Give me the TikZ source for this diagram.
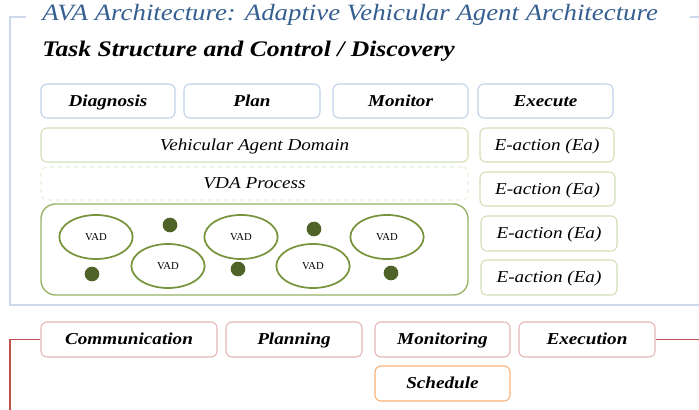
\documentclass[tikz,border=0pt]{standalone}
\usepackage{fontspec}
\setmainfont{Liberation Serif}
\newfontfamily\widefont[FakeStretch=1.15]{Liberation Serif}
\usetikzlibrary{fit,shapes.geometric}

\definecolor{titleblue}{RGB}{54,95,145}
\definecolor{framecol}{RGB}{205,218,236}
\definecolor{topcol}{RGB}{190,208,232}
\definecolor{greencol}{RGB}{208,222,178}
\definecolor{vdacol}{RGB}{232,238,218}
\definecolor{poolcol}{RGB}{150,178,100}
\definecolor{vadcol}{RGB}{119,147,60}
\definecolor{dotcol}{RGB}{79,98,40}
\definecolor{rosecol}{RGB}{228,180,180}
\definecolor{orangecol}{RGB}{247,175,115}
\definecolor{linkred}{RGB}{192,80,77}

\tikzset{
  frame/.style={draw=framecol, line width=1.1pt},
  basebox/.style={rounded corners=4.5pt, inner sep=0pt, line width=0.8pt},
  labelbox/.style={inner sep=0pt, text height=9pt, text depth=0.8pt},
  boldlabel/.style={label={[labelbox, font=\widefont\fontsize{12.5}{14}\selectfont\bfseries\itshape]center:#1}},
  plainlabel/.style={label={[labelbox, font=\widefont\fontsize{12.5}{14}\selectfont\itshape]center:#1}},
  topbox/.style={basebox, draw=topcol, boldlabel=#1},
  greenbox/.style={basebox, draw=greencol, plainlabel=#1},
  vdabox/.style={basebox, draw=vdacol, dashed, plainlabel=#1},
  poolbox/.style={rounded corners=11pt, inner sep=0pt, draw=poolcol, line width=1pt},
  vad/.style={ellipse, draw=vadcol, line width=1.3pt, minimum width=55pt, minimum height=33pt,
    inner sep=0pt, font=\fontsize{8}{9}\selectfont},
  dot/.style={circle, fill=dotcol, minimum size=11pt, inner sep=0pt},
  rosebox/.style={basebox, draw=rosecol, boldlabel=#1},
  orangebox/.style={basebox, draw=orangecol, boldlabel=#1},
  link/.style={draw=linkred, line width=0.9pt},
}

\begin{document}
\begin{tikzpicture}[x=0.75pt, y=-0.75pt]
\useasboundingbox (0,0) rectangle (699,410);

% outer frame of the architecture panel
\draw[frame] (26,17) -- (10,17) -- (10,305) -- (699,305);
\draw[frame] (690,17) -- (699,17);

% headings
\node[anchor=base west, inner sep=0pt, text=titleblue,
      font=\widefont\fontsize{17.5}{20}\selectfont\itshape] (title) at (42,21)
  {AVA Architecture: Adaptive Vehicular Agent Architecture};
\node[anchor=base west, inner sep=0pt,
      font=\widefont\fontsize{16.7}{20}\selectfont\bfseries\itshape] (subtitle) at (42,56)
  {Task Structure and Control / Discovery};

% task structure row
\node[topbox=Diagnosis, fit={(41,84)(175,118)}]  (diag) {};
\node[topbox=Plan,      fit={(184,84)(320,118)}] (plan) {};
\node[topbox=Monitor,   fit={(333,84)(468,118)}] (mon)  {};
\node[topbox=Execute,   fit={(478,84)(613,118)}] (exe)  {};

% domain layers
\node[greenbox=Vehicular Agent Domain, fit={(41,128)(468,162)}] (vad-domain) {};
\node[vdabox=VDA Process,              fit={(41,167)(468,200)}] (vda-proc)   {};
\node[poolbox, fit={(41,204)(468,295)}] (pool) {};

% E-action column
\node[greenbox=E-action (Ea), fit={(480,128)(614,162)}] (ea1) {};
\node[greenbox=E-action (Ea), fit={(480,172)(615,206)}] (ea2) {};
\node[greenbox=E-action (Ea), fit={(481,216)(617,251)}] (ea3) {};
\node[greenbox=E-action (Ea), fit={(481,260)(617,295)}] (ea4) {};

% vehicular agents inside the pool
\node[vad] (v1) at (96,237)  {VAD};
\node[vad] (v2) at (168,266) {VAD};
\node[vad] (v3) at (241,237) {VAD};
\node[vad] (v4) at (313,266) {VAD};
\node[vad] (v5) at (387,237) {VAD};
\node[dot] (d1) at (170,225) {};
\node[dot] (d2) at (92,274)  {};
\node[dot] (d3) at (238,269) {};
\node[dot] (d4) at (314,229) {};
\node[dot] (d5) at (391,273) {};

% control / discovery row
\node[rosebox=Communication, fit={(41,322)(217,357)}]  (comm)  {};
\node[rosebox=Planning,      fit={(226,322)(362,357)}] (plng)  {};
\node[rosebox=Monitoring,    fit={(375,322)(510,357)}] (mong)  {};
\node[rosebox=Execution,     fit={(519,322)(655,357)}] (exec)  {};
\node[orangebox=Schedule,    fit={(375,366)(510,401)}] (sched) {};

% links leaving the panel
\coordinate (leftend) at (10,410);
\coordinate (rightend) at (699,339.5);
\draw[link] (comm.west) -| (leftend);
\draw[link] (exec.east) -- (rightend);
\end{tikzpicture}
\end{document}
